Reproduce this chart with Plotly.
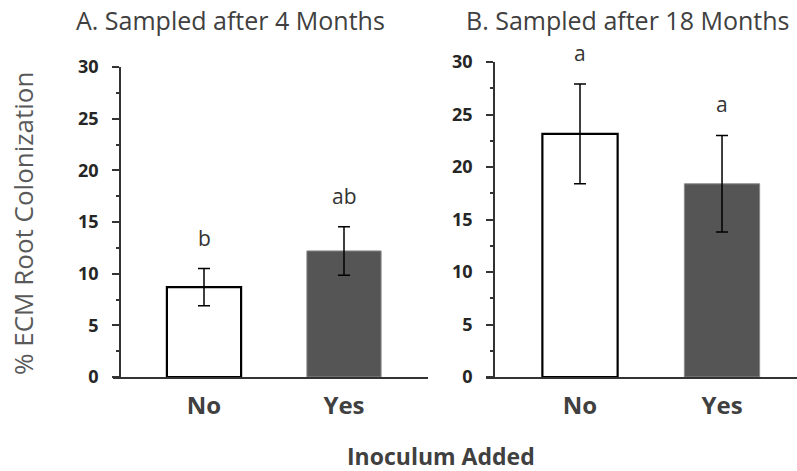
import plotly.graph_objects as go

W, H = 797, 471

categories = ["No", "Yes"]
mean_4m = [8.7, 12.2]
se_4m = [1.8, 2.35]
letters_4m = ["b", "ab"]

mean_18m = [23.15, 18.4]
se_18m = [4.75, 4.6]
letters_18m = ["a", "a"]

y_ticks = [0, 5, 10, 15, 20, 25, 30]
y_range = [0, 30]

bar_fill = ["white", "#555555"]
bar_edge = ["black", "#8a8a8a"]
bar_edge_w = [2.2, 1]

FONT = "Open Sans"

yA_dom = [1 - 377 / H, 1 - 67 / H]
yB_dom = [1 - 377 / H, 1 - 62 / H]

fig = go.Figure()


def to_paper(v, dom):
    return dom[0] + (v - y_range[0]) / (y_range[1] - y_range[0]) * (dom[1] - dom[0])


def add_panel(means, ses, letters, xa, ya, ydom):
    fig.add_trace(go.Bar(
        x=categories, y=means, width=0.53,
        marker=dict(color=bar_fill, line=dict(color=bar_edge, width=bar_edge_w)),
        error_y=dict(type="data", array=ses, visible=True, color="black",
                     thickness=1.5, width=6),
        xaxis=xa, yaxis=ya, hoverinfo="skip", showlegend=False,
    ))
    for c, m, s, t in zip(categories, means, ses, letters):
        fig.add_annotation(
            text=t, xref=xa, yref="paper", x=c, y=to_paper(m + s + 3.0, ydom),
            xanchor="center", yanchor="middle", showarrow=False,
            font=dict(family=FONT, size=21, color="#333333"),
        )


add_panel(mean_4m, se_4m, letters_4m, "x", "y", yA_dom)
add_panel(mean_18m, se_18m, letters_18m, "x2", "y2", yB_dom)

xcommon = dict(showline=True, linecolor="#333333", linewidth=1.5, ticks="",
               showgrid=False, zeroline=False, fixedrange=True, automargin=False,
               tickfont=dict(family=FONT, size=24, color="#404040", weight="bold"),
               ticklabelstandoff=6)
ycommon = dict(range=y_range, tickvals=y_ticks, ticks="outside", ticklen=7,
               tickwidth=1.5, tickcolor="#333333", showline=True,
               linecolor="#333333", linewidth=1.5, showgrid=False,
               zeroline=False, fixedrange=True, automargin=False,
               tickfont=dict(family=FONT, size=18, color="#262626", weight="bold"),
               ticklabelstandoff=10,
               minor=dict(dtick=2.5, ticks="outside", ticklen=3,
                          tickwidth=1.5, tickcolor="#333333", showgrid=False))

fig.update_layout(
    width=W, height=H, margin=dict(l=0, r=0, t=0, b=0, autoexpand=False),
    paper_bgcolor="white", plot_bgcolor="white", showlegend=False,
    xaxis=dict(domain=[113 / W, 428 / W], anchor="y", range=[-0.65, 1.6], **xcommon),
    xaxis2=dict(domain=[486 / W, 1.0], anchor="y2", range=[-0.662, 1.528], **xcommon),
    yaxis=dict(domain=yA_dom, anchor="free", position=120 / W, **ycommon),
    yaxis2=dict(domain=yB_dom, anchor="free", position=494 / W, **ycommon),
)

annos = [
    dict(text="A. Sampled after 4 Months", x=230 / W, y=1 - 20 / H, size=25,
         color="#404040", weight="normal", angle=0),
    dict(text="B. Sampled after 18 Months", x=627 / W, y=1 - 20 / H, size=25,
         color="#404040", weight="normal", angle=0),
    dict(text="% ECM Root Colonization", x=23 / W, y=1 - 224 / H, size=26,
         color="#595959", weight="normal", angle=-90),
    dict(text="Inoculum Added", x=441 / W, y=1 - 456 / H, size=23,
         color="#404040", weight="bold", angle=0),
]
for a in annos:
    fig.add_annotation(
        text=a["text"], xref="paper", yref="paper", x=a["x"], y=a["y"],
        xanchor="center", yanchor="middle", showarrow=False, textangle=a["angle"],
        font=dict(family=FONT, size=a["size"], color=a["color"], weight=a["weight"]),
    )

fig.write_html("out.html", config={"displayModeBar": False},
               post_script="document.body.style.margin='0';")
